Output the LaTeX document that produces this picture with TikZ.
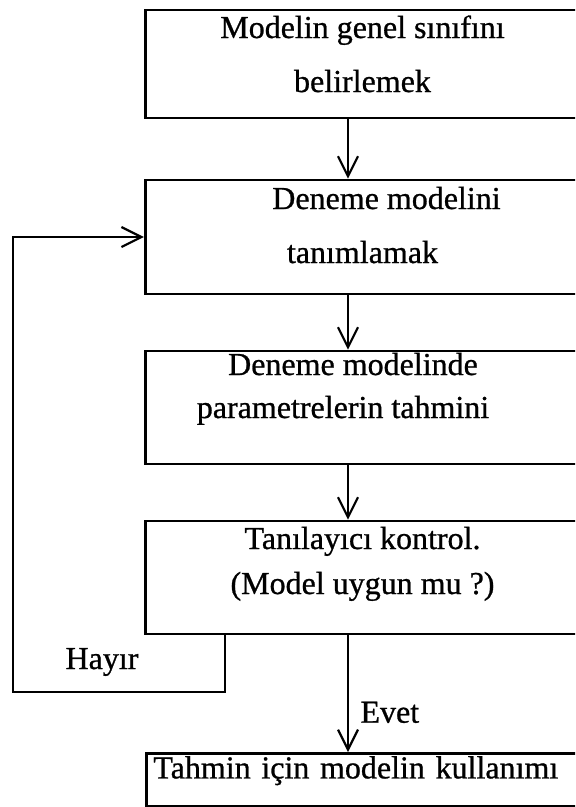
\documentclass[tikz,border=0pt]{standalone}
\usepackage{fontspec}
\setmainfont{Liberation Serif}[FakeBold=0.8]
\usetikzlibrary{arrows.meta}
\newcommand{\topgap}[1]{\rule{0pt}{#1}}
\newcommand{\botgap}[1]{\rule[-#1]{0pt}{#1}}

\begin{document}
\begin{tikzpicture}[x=0.75pt, y=-0.75pt, line width=2.1pt,
	every node/.style={font=\fontsize{24}{40.5}\selectfont},
	stagebox/.style={draw, rectangle, align=center, inner xsep=0pt, inner ysep=0pt, minimum width=326pt},
	flow/.style={-{Straight Barb[length=15pt, width=15pt, line width=1.6pt]}}]
	\clip (0,0) rectangle (575,807);
	\node[stagebox] (sinif) at (362.5,64) {\topgap{21pt}Modelin genel sınıfını\\belirlemek\botgap{19.5pt}};
	\node[stagebox] (deneme) at (362.5,237) {\topgap{21.75pt}\hspace*{36pt}Deneme modelini\\tanımlamak\botgap{23.25pt}};
	\node[stagebox, font=\fontsize{24}{32.25}\selectfont] (tahmin) at (362.5,407.5)
		{\topgap{18pt}Deneme modelinde\hspace*{14.25pt}\\parametrelerin tahmini\hspace*{29.25pt}\botgap{34.5pt}};
	\node[stagebox, font=\fontsize{24}{33.75}\selectfont] (kontrol) at (362.5,577.5)
		{\topgap{21pt}Tanılayıcı kontrol.\\(Model uygun mu ?)\botgap{30pt}};
	\node[draw, rectangle, align=left, inner xsep=5.25pt, inner ysep=0pt, text width=315.75pt,
		text height=18.75pt, text depth=21pt, anchor=north west] (kullanim) at (145,752) {Tahmin için modelin kullanımı};
	\coordinate (spine) at (348,0);
	\coordinate (hayirx) at (225,0);
	\coordinate (loopleft) at (13,692);
	\draw[flow] (sinif.south -| spine) -- (deneme.north -| spine);
	\draw[flow] (deneme.south -| spine) -- (tahmin.north -| spine);
	\draw[flow] (tahmin.south -| spine) -- (kontrol.north -| spine);
	\draw[flow] (kontrol.south -| spine) -- node[pos=0.66, anchor=west, xshift=5pt] (evet) {Evet} (kullanim.north -| spine);
	% geri donus
	\draw[flow] (kontrol.south -| hayirx) |- (loopleft) |- (deneme.west);
	\node (hayir) at (102,662) {Hayır};
\end{tikzpicture}
\end{document}
